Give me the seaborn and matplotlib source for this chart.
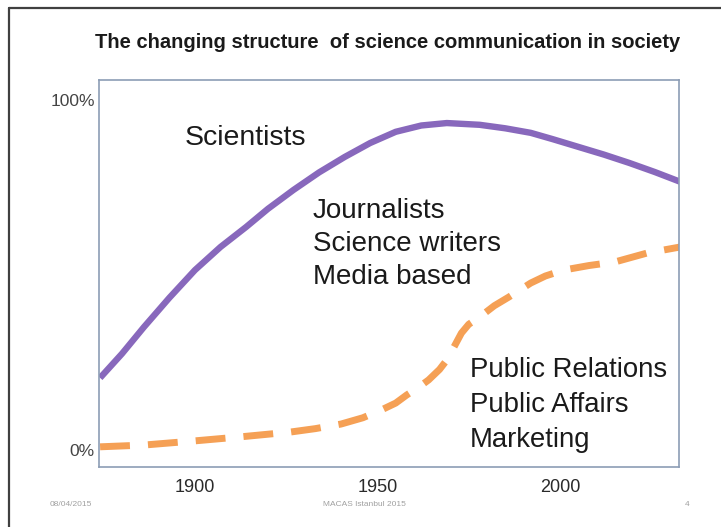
import matplotlib
matplotlib.use("Agg")
import matplotlib.pyplot as plt
import seaborn as sns
import pandas as pd

# values (share of science communication, %)
sci_years = [1874, 1880, 1886, 1893, 1900, 1907, 1914, 1920, 1927, 1934, 1941, 1948,
             1955, 1962, 1969, 1978, 1985, 1992, 1998, 2005, 2012, 2019, 2026, 2033]
sci_share = [20.6, 27.5, 35.1, 43.5, 51.4, 58.0, 63.7, 68.9, 74.3, 79.3, 83.7, 87.7,
             90.9, 92.7, 93.4, 92.9, 91.9, 90.6, 88.8, 86.6, 84.4, 82.0, 79.4, 76.6]

pr_years = [1874, 1886, 1900, 1912, 1926, 1933, 1940, 1946, 1951, 1955, 1958, 1961, 1964,
            1967, 1969, 1971, 1973, 1975, 1978, 1982, 1986, 1992, 1996, 2001, 2008, 2015,
            2024, 2033]
pr_share = [0.9, 1.4, 2.6, 3.7, 5.1, 6.1, 7.4, 9.2, 11.4, 13.4, 15.7, 17.7, 20.0,
            23.0, 25.7, 29.5, 33.4, 35.9, 38.0, 41.2, 43.7, 47.7, 49.7, 51.4, 52.7, 53.7,
            56.3, 58.0]

x_ticks = [1900, 1950, 2000]
y_ticks = [0, 100]
y_tick_labels = ["0%", "100%"]

title = "The changing structure  of science communication in society"
label_sci = "Scientists"
label_media = ["Journalists", "Science writers", "Media based"]
label_pr = ["Public Relations", "Public Affairs", "Marketing"]
footer = ["08/04/2015", "MACAS Istanbul 2015", "4"]

df_sci = pd.DataFrame({"year": sci_years, "share": sci_share})
df_pr = pd.DataFrame({"year": pr_years, "share": pr_share})

sns.set_theme(style="white")
plt.rcParams["font.family"] = ["Liberation Sans", "DejaVu Sans"]

fig = plt.figure(figsize=(7.21, 5.27), dpi=100)
ax = fig.add_axes([0.1373, 0.1139, 0.8044, 0.7343])

sns.lineplot(data=df_sci, x="year", y="share", ax=ax, color="#8868BC",
             linewidth=4.6, solid_capstyle="butt", solid_joinstyle="round")
sns.lineplot(data=df_pr, x="year", y="share", ax=ax, color="#F5A055",
             linewidth=5.0)
ax.lines[-1].set_dashes([4.3, 2.6])
ax.lines[-1].set_dash_capstyle("butt")

ax.set_xlim(1873.7, 2032.6)
ax.set_ylim(-4.86, 105.7)
ax.set_xticks(x_ticks)
ax.set_xticklabels([str(t) for t in x_ticks], fontsize=13, color="#2a2a2a")
ax.set_yticks(y_ticks)
ax.set_yticklabels(y_tick_labels, fontsize=12.5, color="#444444")
ax.tick_params(axis="x", length=0, pad=9)
ax.tick_params(axis="y", length=0, pad=3)
ax.set_xlabel("")
ax.set_ylabel("")
for sp in ax.spines.values():
    sp.set_color("#8c9db5")
    sp.set_linewidth(1.2)

txt_color = "#1a1a1a"
ax.text(0.148, 0.832, label_sci, transform=ax.transAxes, fontsize=20.5,
        color=txt_color, va="baseline")
for line, yb in zip(label_media, [0.643, 0.558, 0.473]):
    ax.text(0.369, yb, line, transform=ax.transAxes, fontsize=20,
            color=txt_color, va="baseline")
for line, yb in zip(label_pr, [0.2326, 0.142, 0.0517]):
    ax.text(0.640, yb, line, transform=ax.transAxes, fontsize=19.8,
            color=txt_color, va="baseline")

fig.text(0.538, 0.920, title, ha="center", va="center", fontsize=14.5,
         fontweight="bold", color=txt_color)

fig.text(0.069, 0.042, footer[0], fontsize=6, color="#a0a0a0", va="center")
fig.text(0.505, 0.042, footer[1], fontsize=6, color="#a0a0a0", va="center", ha="center")
fig.text(0.953, 0.042, footer[2], fontsize=6, color="#a0a0a0", va="center", ha="center")

# slide frame (top and left edges)
fig.add_artist(plt.Line2D([9 / 721, 1.0], [1 - 8 / 527, 1 - 8 / 527],
                          transform=fig.transFigure, color="#404040", linewidth=1.6))
fig.add_artist(plt.Line2D([9 / 721, 9 / 721], [0.0, 1 - 8 / 527],
                          transform=fig.transFigure, color="#404040", linewidth=1.6))

fig.savefig("out.png", dpi=100)
